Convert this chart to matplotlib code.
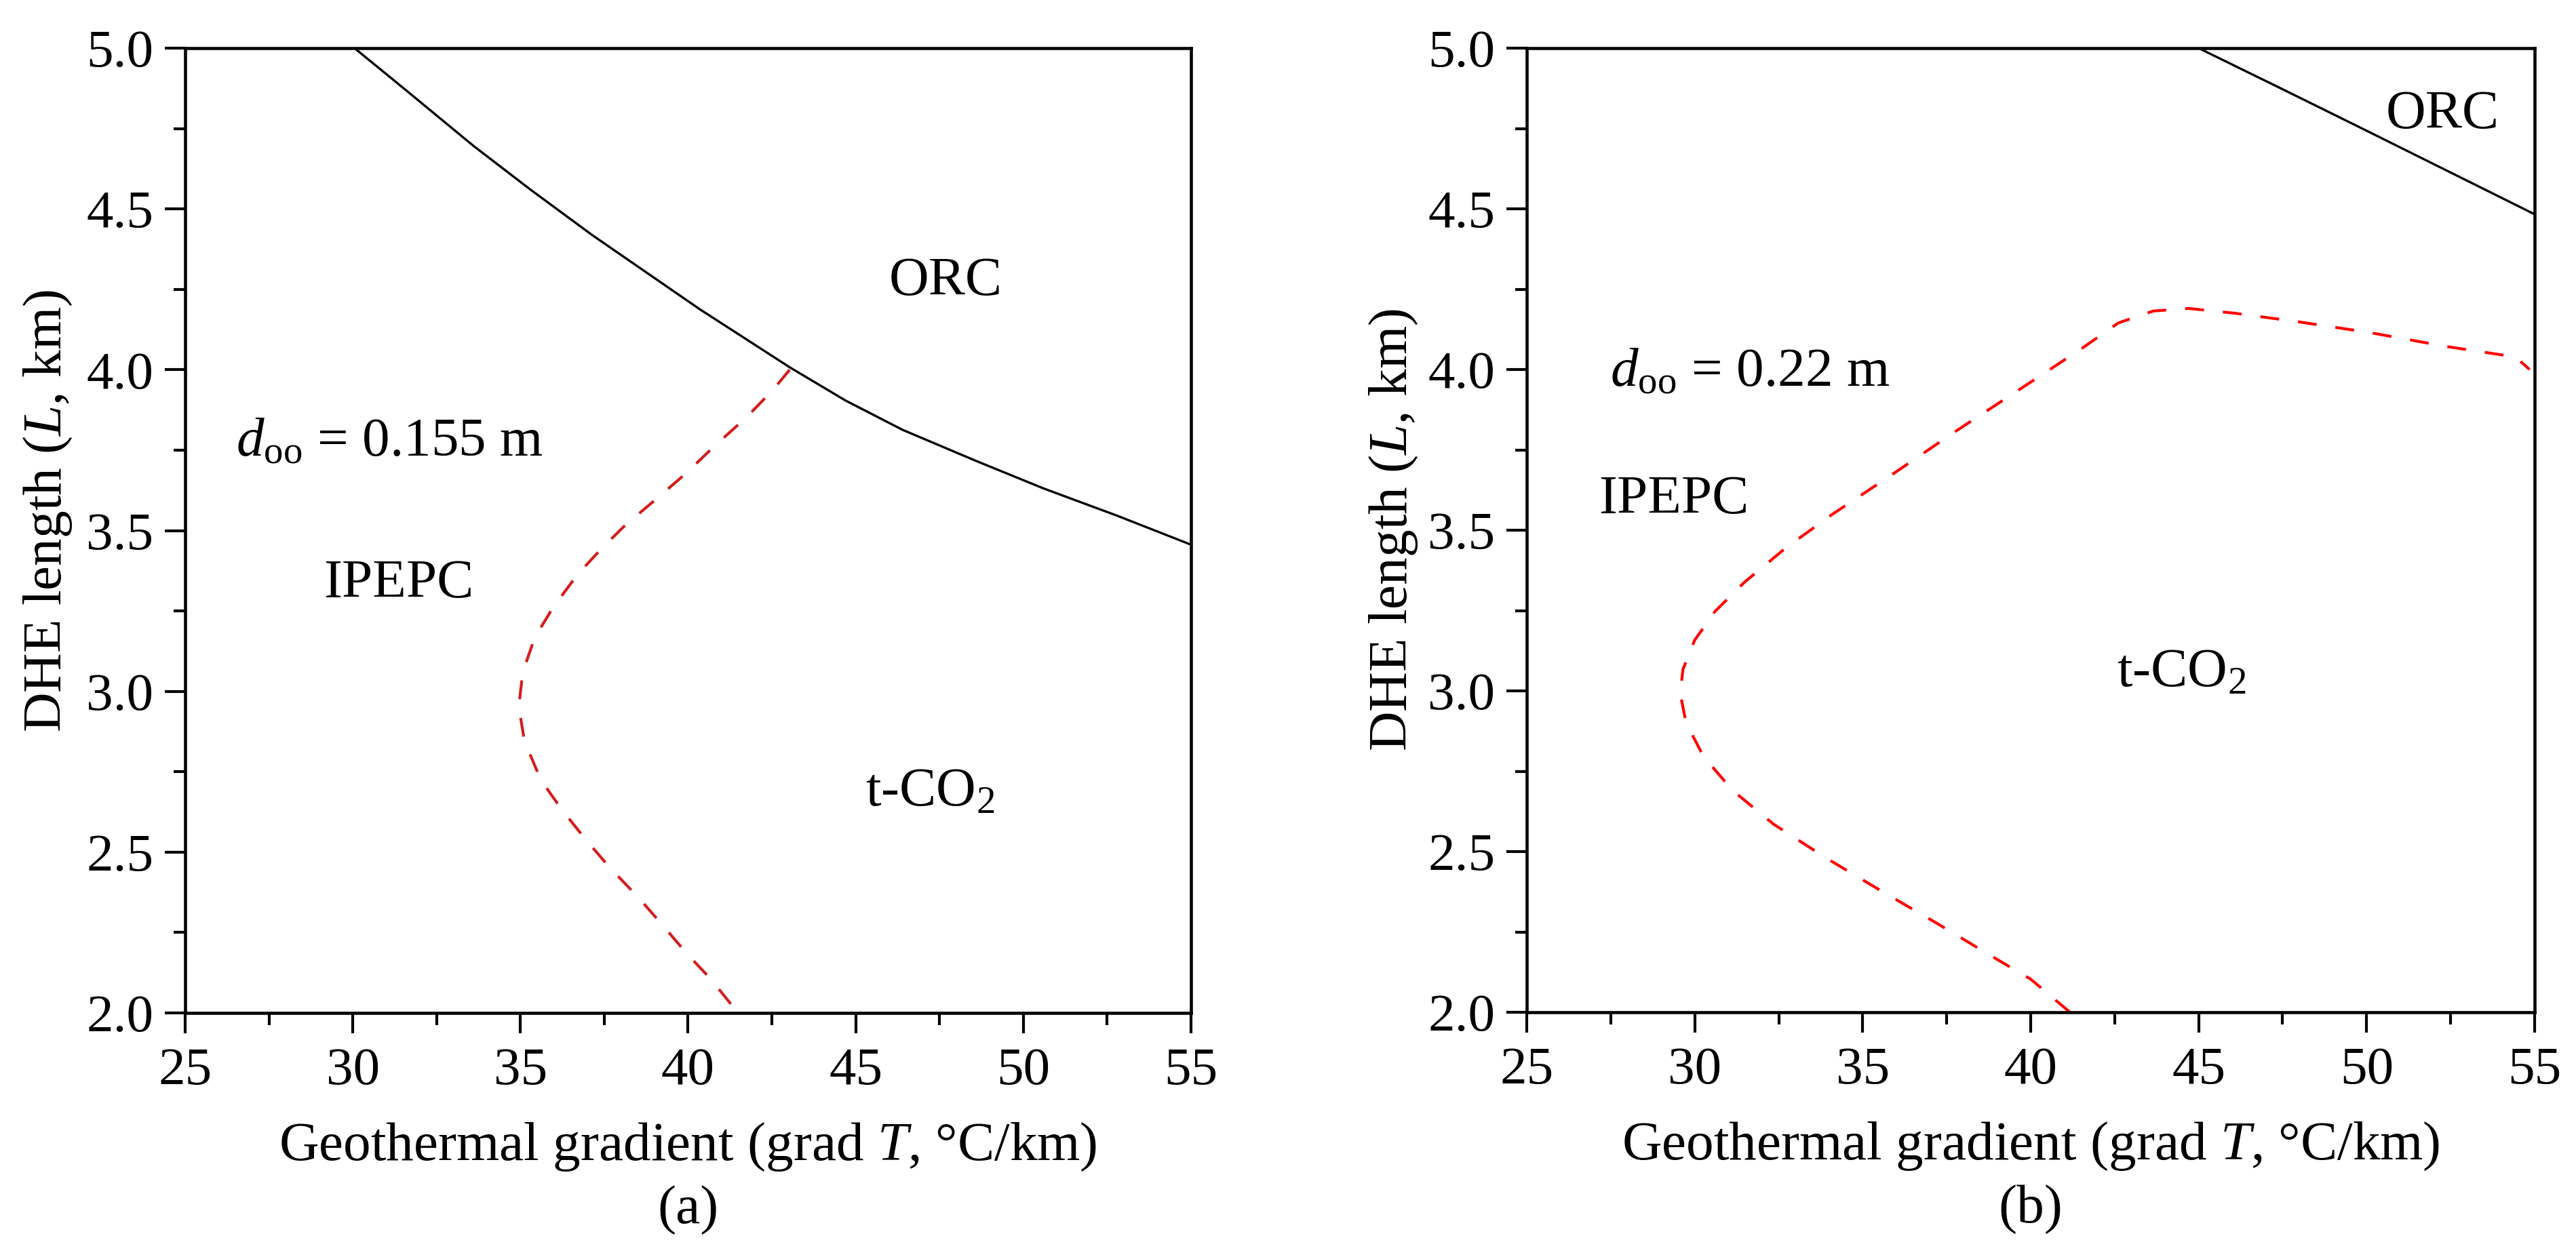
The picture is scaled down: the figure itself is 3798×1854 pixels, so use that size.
import matplotlib
matplotlib.use("Agg")
import matplotlib.pyplot as plt
from matplotlib.ticker import MultipleLocator, FormatStrFormatter

plt.rcParams['font.family'] = ['Liberation Serif', 'DejaVu Serif']
plt.rcParams['mathtext.fontset'] = 'custom'
plt.rcParams['mathtext.rm'] = 'Liberation Serif'
plt.rcParams['mathtext.it'] = 'Liberation Serif:italic'
plt.rcParams['mathtext.bf'] = 'Liberation Serif:bold'

# ---- data: panel (a), d_oo = 0.155 m ----
a_orc_x = [30.05, 31.6, 33.6, 35.3, 37.15, 40.35, 43.04, 44.7, 46.4, 48.6, 50.6, 52.8, 55.0]
a_orc_y = [5.0, 4.868, 4.696, 4.560, 4.418, 4.188, 4.007, 3.904, 3.813, 3.716, 3.631, 3.546, 3.456]
a_co2_x = [43.03, 42.53, 41.76, 40.76, 39.95, 39.05, 38.14, 37.42, 36.70, 35.98, 35.43, 35.07,
           34.95, 35.12, 35.61, 36.25, 36.97, 37.69, 38.50, 39.23, 39.95, 40.67, 41.49]
a_co2_y = [4.0, 3.937, 3.854, 3.760, 3.679, 3.598, 3.518, 3.444, 3.363, 3.262, 3.168, 3.060,
           2.953, 2.845, 2.724, 2.630, 2.536, 2.449, 2.361, 2.274, 2.186, 2.106, 2.0]

# ---- data: panel (b), d_oo = 0.22 m ----
b_orc_x = [45.0, 47.5, 50.0, 52.5, 55.0]
b_orc_y = [5.0, 4.872, 4.743, 4.613, 4.483]
b_co2_x = [41.17, 40.0, 38.78, 37.22, 35.48, 33.91, 32.35, 31.13, 30.26, 29.74, 29.57, 29.65,
           30.0, 30.61, 31.48, 32.70, 34.09, 35.83, 37.74, 39.83, 41.57, 42.61, 43.65, 44.70,
           46.09, 48.0, 50.09, 52.35, 54.43, 54.85]
b_co2_y = [2.0, 2.103, 2.178, 2.276, 2.382, 2.480, 2.585, 2.690, 2.796, 2.901, 2.992, 3.067,
           3.158, 3.248, 3.338, 3.444, 3.549, 3.670, 3.806, 3.949, 4.069, 4.145, 4.182, 4.190,
           4.175, 4.148, 4.115, 4.072, 4.039, 4.0]

xlabel = r"Geothermal gradient $\mathit{(}$grad $T$, °C/km)"
ylabel = r"DHE length ($L$, km)"

fig = plt.figure(figsize=(3798/300, 1854/300), dpi=300)
ax_a = fig.add_axes([273/3798, 1 - 1494/1854, 1483/3798, 1423/1854])
ax_b = fig.add_axes([2251/3798, 1 - 1493/1854, 1486/3798, 1422/1854])

TICK = 19
TXT = 19.5

def style(ax, ylab_coords):
    ax.set_xlim(25, 55)
    ax.set_ylim(2.0, 5.0)
    ax.xaxis.set_major_locator(MultipleLocator(5))
    ax.xaxis.set_minor_locator(MultipleLocator(2.5))
    ax.yaxis.set_major_locator(MultipleLocator(0.5))
    ax.yaxis.set_minor_locator(MultipleLocator(0.25))
    ax.yaxis.set_major_formatter(FormatStrFormatter('%.1f'))
    ax.tick_params(which='both', direction='out', top=False, right=False, width=1.0)
    ax.tick_params(which='major', length=7.2, labelsize=TICK)
    ax.tick_params(axis='x', which='major', pad=5)
    ax.tick_params(axis='y', which='major', pad=4)
    ax.tick_params(which='minor', length=4.2)
    for s in ax.spines.values():
        s.set_linewidth(1.1)
    ax.set_xlabel(xlabel, fontsize=TXT, va='center')
    ax.xaxis.set_label_coords(0.5, -0.139)
    ax.set_ylabel(ylabel, fontsize=TXT, va='center')
    ax.yaxis.set_label_coords(*ylab_coords)

# panel (a)
ax_a.plot(a_orc_x, a_orc_y, color='black', lw=0.8)
ax_a.plot(a_co2_x, a_co2_y, color='#d41c1c', lw=1.0, dashes=(6.7, 6.7))
style(ax_a, (-0.136, 0.52))
ax_a.text(47.69, 4.232, "ORC", fontsize=TXT, ha='center', va='baseline')
ax_a.text(26.52, 3.733, r"$d_{\mathrm{oo}}$ = 0.155 m", fontsize=TXT, ha='left', va='baseline')
ax_a.text(31.36, 3.292, "IPEPC", fontsize=TXT, ha='center', va='baseline')
ax_a.text(45.28, 2.643, r"t-CO$_{2}$", fontsize=TXT, ha='left', va='baseline')
ax_a.text(0.5, -0.205, "(a)", fontsize=TXT, ha='center', va='center', transform=ax_a.transAxes)

# panel (b)
ax_b.plot(b_orc_x, b_orc_y, color='black', lw=0.8)
ax_b.plot(b_co2_x, b_co2_y, color='#ff0000', lw=1.0, dashes=(6.7, 6.7))
style(ax_b, (-0.132, 0.50))
ax_b.text(52.26, 4.750, "ORC", fontsize=TXT, ha='center', va='baseline')
ax_b.text(27.49, 3.948, r"$d_{\mathrm{oo}}$ = 0.22 m", fontsize=TXT, ha='left', va='baseline')
ax_b.text(29.38, 3.552, "IPEPC", fontsize=TXT, ha='center', va='baseline')
ax_b.text(42.56, 3.012, r"t-CO$_{2}$", fontsize=TXT, ha='left', va='baseline')
ax_b.text(0.5, -0.205, "(b)", fontsize=TXT, ha='center', va='center', transform=ax_b.transAxes)

fig.savefig("out.png", dpi=300)
